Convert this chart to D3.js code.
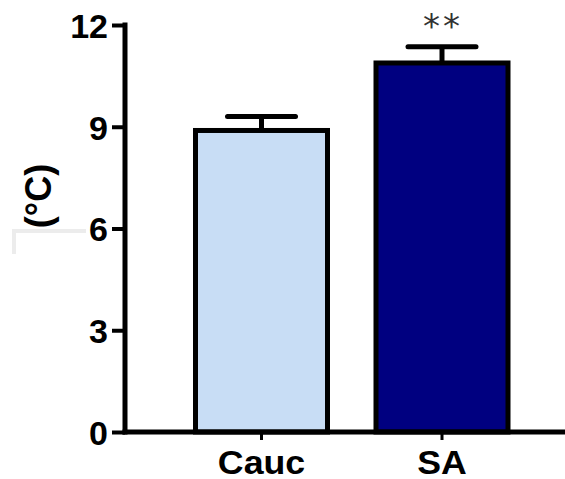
<!DOCTYPE html>
<html>
<head>
<meta charset="utf-8">
<script src="https://cdn.jsdelivr.net/npm/d3@7"></script>
<style>
  body { margin:0; background:#fff; }
  svg text { font-family: "Liberation Sans", Arial, sans-serif; font-weight:bold; }
</style>
</head>
<body>
<svg id="chart" width="565" height="479"></svg>
<script>
// data
var categories = ["Cauc", "SA"];
var means = [8.89, 10.88];
var sems = [0.41, 0.48];
var barColors = ["#c8ddf5", "#000080"];
var yTicks = [0, 3, 6, 9, 12];
var sigLabels = ["", "**"];

var svg = d3.select("#chart");

var y = d3.scaleLinear().domain([0, 12]).range([432, 25]);
var x = d3.scaleBand().domain(categories).range([171.25, 532.25]).padding(0);
var barW = 132;

// faint grey corner left in the scan
svg.append("path")
  .attr("d", "M14,254V231H86")
  .attr("fill", "none").attr("stroke", "#ececec").attr("stroke-width", 4);

// bars
var g = svg.append("g");
g.selectAll("rect.bar").data(categories).enter().append("rect")
  .attr("class", "bar")
  .attr("x", function(d){ return x(d) + x.bandwidth()/2 - barW/2; })
  .attr("y", function(d,i){ return y(means[i]); })
  .attr("width", barW)
  .attr("height", function(d,i){ return y(0) - y(means[i]); })
  .attr("fill", function(d,i){ return barColors[i]; })
  .attr("stroke", "#000").attr("stroke-width", 5);

// error bars (upper only)
g.selectAll("line.stem").data(categories).enter().append("line")
  .attr("x1", function(d){ return x(d) + x.bandwidth()/2; })
  .attr("x2", function(d){ return x(d) + x.bandwidth()/2; })
  .attr("y1", function(d,i){ return y(means[i]); })
  .attr("y2", function(d,i){ return y(means[i] + sems[i]); })
  .attr("stroke", "#000").attr("stroke-width", 5);
g.selectAll("line.cap").data(categories).enter().append("line")
  .attr("x1", function(d){ return x(d) + x.bandwidth()/2 - 34; })
  .attr("x2", function(d){ return x(d) + x.bandwidth()/2 + 34; })
  .attr("y1", function(d,i){ return y(means[i] + sems[i]); })
  .attr("y2", function(d,i){ return y(means[i] + sems[i]); })
  .attr("stroke", "#000").attr("stroke-width", 5).attr("stroke-linecap", "round");

// significance stars
g.selectAll("text.sig").data(categories).enter().append("text")
  .attr("x", function(d){ return x(d) + x.bandwidth()/2 + 1; })
  .attr("y", 38)
  .attr("text-anchor", "middle")
  .style("font-family", "'DejaVu Sans', sans-serif")
  .style("font-weight", "normal")
  .style("font-size", "34px")
  .style("letter-spacing", "3px")
  .attr("fill", "#333")
  .text(function(d,i){ return sigLabels[i]; });

// y axis
var yAxis = svg.append("g").attr("transform", "translate(125,0)")
  .call(d3.axisLeft(y).tickValues(yTicks).tickSize(13).tickSizeOuter(0).tickPadding(4));
yAxis.select(".domain").attr("stroke-width", 5).attr("d", "M0,22.5V434.5");
yAxis.selectAll(".tick line").attr("stroke-width", 4);
yAxis.selectAll(".tick text").style("font-size", "34px").attr("fill", "#000").attr("dy", "0.36em");

// x axis
var xAxis = svg.append("g").attr("transform", "translate(0,432)")
  .call(d3.axisBottom(x).tickSize(8).tickSizeOuter(0).tickPadding(10));
xAxis.select(".domain").attr("stroke-width", 5).attr("d", "M122.5,0H565");
xAxis.selectAll(".tick line").attr("stroke-width", 3);
xAxis.selectAll(".tick text").style("font-size", "34px").attr("fill", "#000")
  .attr("dy", "0.71em").attr("transform", "scale(1.05,1)");

// y label
svg.append("text")
  .attr("transform", "translate(41,196) rotate(-90)")
  .attr("text-anchor", "middle")
  .attr("dy", "0.27em")
  .style("font-size", "36px")
  .text("(°C)");
</script>
</body>
</html>
